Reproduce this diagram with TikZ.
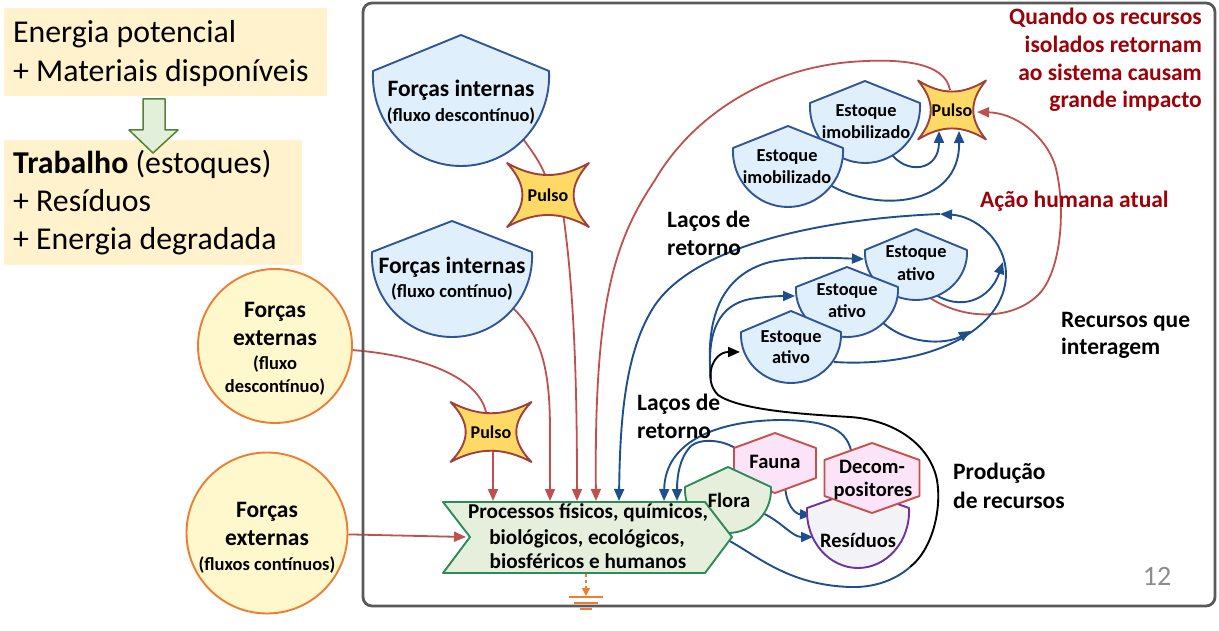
\documentclass[tikz,border=0pt]{standalone}
\usepackage{fontspec}
\setmainfont{Carlito}
\usetikzlibrary{arrows.meta,calc,backgrounds}

\definecolor{boxfill}{HTML}{FFF2CC}
\definecolor{arrowgreenfill}{HTML}{E2EFDA}
\definecolor{arrowgreen}{HTML}{548235}
\definecolor{framegray}{HTML}{595959}
\definecolor{stockblue}{HTML}{2F5597}
\definecolor{stockfill}{HTML}{DFEFFB}
\definecolor{staryellow}{HTML}{FFD966}
\definecolor{starbrown}{HTML}{A0403A}
\definecolor{extfill}{HTML}{FFF8CC}
\definecolor{extorange}{HTML}{ED7D31}
\definecolor{procgreen}{HTML}{2E8B57}
\definecolor{procfill}{HTML}{E6EFDC}
\definecolor{pinkfill}{HTML}{FCE4F8}
\definecolor{hexred}{HTML}{C9504A}
\definecolor{residfill}{HTML}{F2F2F7}
\definecolor{residpurple}{HTML}{7030A0}
\definecolor{linkred}{HTML}{C0504D}
\definecolor{linkblue}{HTML}{1F4E8C}
\definecolor{darkredtext}{HTML}{9E0008}
\definecolor{pagegray}{HTML}{8C8C8C}

% shield: pointed top, round bottom  (style, name, cx, top, shoulder, bottom, half width)
\newcommand\shieldshape[7]{%
  \draw[#1] ({#3-#7},#5) -- (#3,#4) -- ({#3+#7},#5)
    .. controls ({#3+1.03*#7},{#5+0.56*(#6-#5)}) and ({#3+0.56*#7},#6) .. (#3,#6)
    .. controls ({#3-0.56*#7},#6) and ({#3-1.03*#7},{#5+0.56*(#6-#5)}) .. cycle;
  \coordinate (#2) at (#3,#5);}

% four-pointed pulse star (name, cx, cy, half width, half height)
\newcommand\pulsestar[5]{%
  \draw[starbox] ({#2-#4},{#3-#5})
    .. controls ({#2-0.3*#4},{#3-0.5*#5}) and ({#2+0.3*#4},{#3-0.5*#5}) .. ({#2+#4},{#3-#5})
    .. controls ({#2+0.5*#4},{#3-0.3*#5}) and ({#2+0.5*#4},{#3+0.3*#5}) .. ({#2+#4},{#3+#5})
    .. controls ({#2+0.3*#4},{#3+0.5*#5}) and ({#2-0.3*#4},{#3+0.5*#5}) .. ({#2-#4},{#3+#5})
    .. controls ({#2-0.5*#4},{#3+0.3*#5}) and ({#2-0.5*#4},{#3-0.3*#5}) .. cycle;
  \node[pulsetext] (#1) at (#2,#3) {Pulso};}

% upright hexagon (style, name, cx, top, corner drop, bottom, half width)
\newcommand\hexshape[7]{%
  \draw[#1] (#3,#4) -- ({#3+#7},{#4+#5}) -- ({#3+#7},{#6-#5}) -- (#3,#6)
    -- ({#3-#7},{#6-#5}) -- ({#3-#7},{#4+#5}) -- cycle;
  \coordinate (#2) at (#3,{(#4+#6)/2});}

\begin{document}
\begin{tikzpicture}[x=1pt,y=-1pt,line join=round,
  headed/.style={-{Triangle[length=12pt,width=10pt]}},
  redlink/.style={draw=linkred,line width=1.8pt},
  bluelink/.style={draw=linkblue,line width=1.9pt},
  stockbox/.style={draw=stockblue,fill=stockfill,line width=1.9pt},
  starbox/.style={draw=starbrown,fill=staryellow,line width=1.9pt},
  hexbox/.style={draw=hexred,fill=pinkfill,line width=1.9pt},
  greenbox/.style={draw=procgreen,fill=procfill,line width=1.9pt},
  residbox/.style={draw=residpurple,fill=residfill,line width=1.9pt},
  extbox/.style={circle,draw=extorange,fill=extfill,line width=1.9pt,inner sep=0pt},
  bigtext/.style={font=\fontsize{31.8}{37}\selectfont,anchor=base west,inner sep=0pt},
  lbl/.style={font=\bfseries\fontsize{23.5}{27}\selectfont,anchor=base,inner sep=0pt},
  lblw/.style={lbl,anchor=base west},
  redtext/.style={font=\bfseries\fontsize{23.5}{28}\selectfont,text=darkredtext,inner sep=0pt},
  subtext/.style={font=\bfseries\fontsize{18.5}{22}\selectfont,anchor=base,inner sep=0pt},
  stk/.style={font=\bfseries\fontsize{18.3}{22}\selectfont,anchor=base,inner sep=0pt},
  midtext/.style={font=\bfseries\fontsize{20.5}{24}\selectfont,anchor=base,inner sep=0pt},
  proctext/.style={font=\bfseries\fontsize{21.2}{25}\selectfont,anchor=base,inner sep=0pt},
  pulsetext/.style={font=\bfseries\fontsize{18}{21}\selectfont,inner sep=0pt},
]
\useasboundingbox (0,0) rectangle (1219,631);

% ---------- summary boxes on the left ----------
\fill[boxfill] (4,8) rectangle (327,96);
\fill[boxfill] (4,140) rectangle (302,265);
\node[bigtext] (t1) at (13,43) {Energia potencial};
\node[bigtext] (t2) at (13,82) {+ Materiais disponíveis};
\node[bigtext] (t3) at (13,174) {\textbf{Trabalho} (estoques)};
\node[bigtext] (t4) at (13,212) {+ Resíduos};
\node[bigtext] (t5) at (13,250) {+ Energia degradada};
\draw[draw=arrowgreen,fill=arrowgreenfill,line width=1.5pt]
  (143,99) -- (165,99) -- (165,130) -- (178,130) -- (153,153) -- (129,130) -- (143,130) -- cycle;

% ---------- system frame ----------
\draw[framegray,line width=2.8pt,rounded corners=9pt] (363,3) rectangle (1215,606);

% ---------- external forces ----------
\node[extbox,minimum size=154pt] (fe1) at (275,346) {};
\node[extbox,minimum size=161pt] (fe2) at (267,533) {};
\node[lbl] (fe1a) at (275,317) {Forças};
\node[lbl] (fe1b) at (275,345) {externas};
\node[subtext] (fe1c) at (275,369) {(fluxo};
\node[subtext] (fe1d) at (275,392) {descontínuo)};
\node[lbl] (fe2a) at (267,517) {Forças};
\node[lbl] (fe2b) at (267,545) {externas};
\node[subtext] (fe2c) at (267,570) {(fluxos contínuos)};

% ---------- internal forces, stocks and pulses ----------
\shieldshape{stockbox}{fi1}{461}{35}{71}{166}{88}
\shieldshape{stockbox}{fi2}{452}{221}{252}{337}{80}
\pulsestar{star1}{548}{195}{41}{32}
\pulsestar{star2}{491}{432}{40.5}{30}
\shieldshape{stockbox}{imob1}{865}{81}{103}{163}{55}
\shieldshape{stockbox}{imob2}{788}{126}{148}{207}{55}
\pulsestar{star3}{952}{110}{34}{29.5}
\shieldshape{stockbox}{act3}{916}{229}{250}{300}{51}
\shieldshape{stockbox}{act2}{847}{267}{287}{337}{51}
\shieldshape{stockbox}{act1}{791}{311}{332}{383}{50}

% ---------- biota, processes and residues ----------
\hexshape{hexbox}{fauna}{775}{433}{15}{493}{41}
\shieldshape{greenbox}{flora}{728}{467}{487}{533}{43}
\draw[greenbox] (443,502) -- (705,502) -- (732,537) -- (705,573) -- (443,573) -- (470,537) -- cycle;
\coordinate (proc) at (588,537);
\shieldshape{residbox}{resid}{858}{490}{508}{568}{51}
\hexshape{hexbox}{decomp}{872}{443}{17}{513}{47.5}

% ---------- shape texts ----------
\node[lbl] (fi1a) at (461,97) {Forças internas};
\node[subtext] (fi1b) at (461,122) {(fluxo descontínuo)};
\node[lbl] (fi2a) at (452,274) {Forças internas};
\node[subtext] (fi2b) at (452,298) {(fluxo contínuo)};
\node[stk] (imob1a) at (866,117) {Estoque};
\node[stk] (imob1b) at (866,139) {imobilizado};
\node[stk] (imob2a) at (787,162) {Estoque};
\node[stk] (imob2b) at (787,184) {imobilizado};
\node[stk] (act3a) at (916,258) {Estoque};
\node[stk] (act3b) at (916,281) {ativo};
\node[stk] (act2a) at (847,295) {Estoque};
\node[stk] (act2b) at (847,318) {ativo};
\node[stk] (act1a) at (791,342) {Estoque};
\node[stk] (act1b) at (791,363) {ativo};
\node[midtext] (floraT) at (729,507) {Flora};
\node[midtext] (faunaT) at (775,468) {Fauna};
\node[midtext] (decompA) at (872,473) {Decom-};
\node[midtext] (decompB) at (873,496) {positores};
\node[midtext] (residT) at (858,547) {Resíduos};
\node[proctext] (procA) at (588,518) {Processos físicos, químicos,};
\node[proctext] (procB) at (587,544) {biológicos, ecológicos,};
\node[proctext] (procC) at (588,568) {biosféricos e humanos};

% ---------- free labels ----------
\node[redtext,anchor=base east] (q1) at (1202,25) {Quando os recursos};
\node[redtext,anchor=base east] (q2) at (1202,52.5) {isolados retornam};
\node[redtext,anchor=base east] (q3) at (1202,80.5) {ao sistema causam};
\node[redtext,anchor=base east] (q4) at (1202,108) {grande impacto};
\node[redtext,anchor=base west] (acao) at (980,208) {Ação humana atual};
\node[lblw] (lacoA1) at (667,228) {Laços de};
\node[lblw] (lacoA2) at (667,256) {retorno};
\node[lblw] (lacoB1) at (637,410) {Laços de};
\node[lblw] (lacoB2) at (637,438) {retorno};
\node[lblw] (rec1) at (1061,327) {Recursos que};
\node[lblw] (rec2) at (1061,354) {interagem};
\node[lblw] (prod1) at (953,479) {Produção};
\node[lblw] (prod2) at (953,508) {de recursos};
\node[font=\fontsize{28}{32}\selectfont,text=pagegray,anchor=base,inner sep=0pt] (pagenum) at (1157,585) {12};

% ---------- energy sink below the processes ----------
\coordinate (gnd) at (586,596);
\draw[draw=extorange,line width=1.3pt,dashed,-{Triangle[length=8pt,width=8pt]}]
  ($(proc)+(-2,37)$) -- (gnd);
\draw[extorange,line width=1.5pt] (569,597) -- (603,597) (574,603) -- (598,603) (580,609) -- (592,609);

% ---------- connectors ----------
\coordinate (loopA) at (940,214);
\coordinate (tipB) at (1003,262);
\coordinate (tipC) at (971,331);
\coordinate (fork) at (711,379);
\coordinate (prodmid) at (910,567);
\begin{scope}[on background layer]
  % red: forces and pulses into the processes
  \draw[redlink] (fe1.-3) .. controls (425,356) and (478,378) .. ($(star2)+(-5,-20)$);
  \draw[redlink,headed] ($(star2)+(2,20)$) -- ($(proc)+(-95,-36)$);
  \draw[redlink] ($(fi1)+(59,64)$) .. controls (533,152) and (542,165) .. ($(star1)+(-1,-15)$);
  \draw[redlink,headed] ($(star1)+(15,18)$) .. controls (574,290) and (577,380) .. ($(proc)+(-11,-36)$);
  \draw[redlink,headed] ($(fi2)+(61,56)$) .. controls (540,335) and (550,365) .. (550,430) -- ($(proc)+(-38,-36)$);
  \draw[redlink,headed] ($(star3)+(-2,-20)$) .. controls (945,62) and (900,58) .. (850,62)
    .. controls (760,70) and (690,120) .. (655,180)
    .. controls (615,240) and (594,300) .. ($(proc)+(8,-36)$);
  \draw[redlink,headed] (fe2.-1) -- ($(proc)+(-122,0)$);
  \draw[redlink,headed] ($(act3)+(11,46)$) .. controls (965,322) and (1015,320) .. (1040,293)
    .. controls (1062,268) and (1066,205) .. (1055,165)
    .. controls (1045,135) and (1015,113) .. ($(star3)+(25,2)$);
  % blue: immobilized stocks feed the pulse
  \draw[bluelink,headed] ($(imob1)+(25,49)$) .. controls (905,175) and (939,172) .. ($(star3)+(-13,21)$);
  \draw[bluelink,headed] ($(imob2)+(42,37)$) .. controls (875,212) and (960,208) .. ($(star3)+(7,21)$);
  % blue: interacting stocks and feedback loops
  \draw[bluelink,headed] ($(act1)+(43,30)$) .. controls (930,368) and (1005,330) .. (1006,275)
    .. controls (1006,240) and (975,216) .. (loopA);
  \draw[bluelink,headed] (loopA) .. controls (840,218) and (700,240) .. (655,305)
    .. controls (625,350) and (620,420) .. ($(proc)+(31,-36)$);
  \draw[bluelink,headed] ($(act3)+(17,43)$) .. controls (960,312) and (990,300) .. (tipB);
  \draw[bluelink,headed] ($(act2)+(33,33)$) .. controls (905,345) and (945,345) .. (tipC);
  \draw[bluelink,headed] (fork) .. controls (705,320) and (720,275) .. (770,262)
    .. controls (800,256) and (835,258) .. ($(act3)+(-52,9)$);
  \draw[bluelink,headed] (fork) .. controls (706,330) and (720,305) .. (750,299)
    .. controls (770,296) and (785,296) .. ($(act2)+(-52,9)$);
  % production of resources
  \draw[bluelink] ($(proc)+(140,3)$) .. controls (760,558) and (790,585) .. (850,587)
    .. controls (880,588) and (900,576) .. (prodmid);
  \draw[black,line width=1.9pt,headed] (prodmid) .. controls (932,550) and (942,510) .. (937,480)
    .. controls (930,445) and (895,420) .. (850,417)
    .. controls (800,414) and (740,410) .. (718,395)
    .. controls (703,380) and (712,352) .. ($(act1)+(-51,20)$);
  % lower feedback loops and residues
  \draw[bluelink,headed] ($(decomp)+(-20,-23)$) .. controls (848,430) and (830,421) .. (783,420)
    .. controls (720,420) and (665,440) .. ($(proc)+(76,-36)$);
  \draw[bluelink,headed] ($(fauna)+(-37,-13)$) .. controls (725,440) and (700,437) .. (690,447)
    .. controls (680,458) and (677,475) .. ($(proc)+(89,-36)$);
  \draw[bluelink,headed] ($(fauna)+(10,22)$) .. controls (786,505) and (795,514) .. ($(resid)+(-46,7)$);
  \draw[bluelink,headed] ($(flora)+(32,25)$) .. controls (780,520) and (792,537) .. ($(resid)+(-45,29)$);
\end{scope}
\end{tikzpicture}
\end{document}
